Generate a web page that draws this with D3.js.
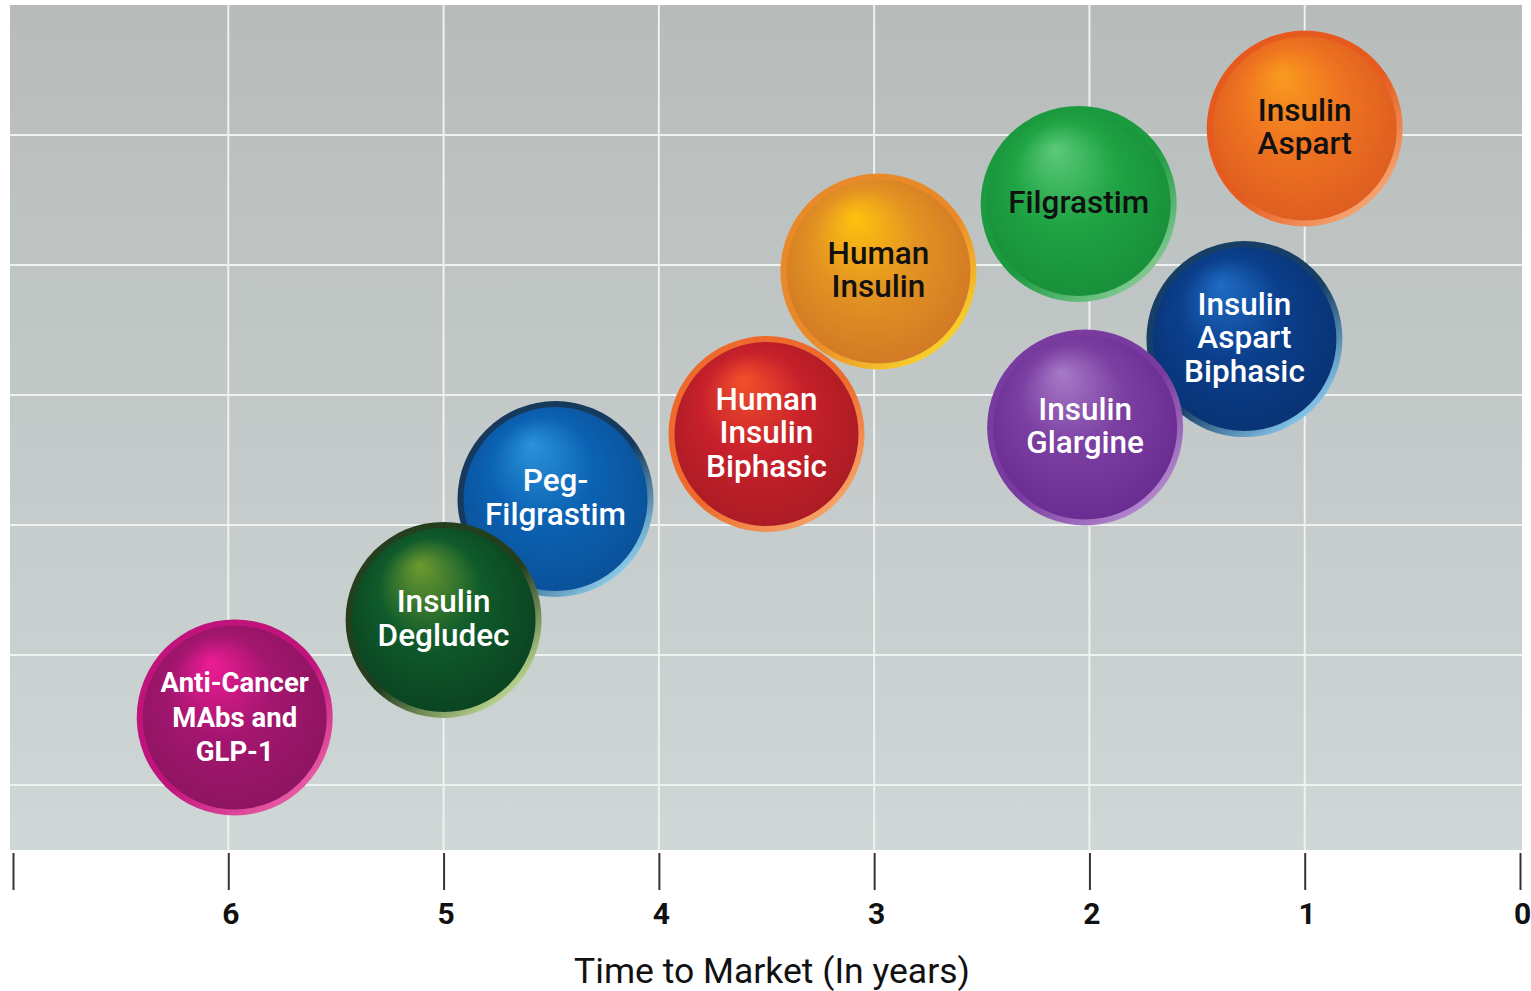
<!DOCTYPE html>
<html>
<head>
<meta charset="utf-8">
<script src="https://cdn.jsdelivr.net/npm/d3@7"></script>
<style>
  body { margin: 0; background: #fff; }
  svg { display: block; }
</style>
</head>
<body>
<script>
// drugs, time to market (years) and vertical position
var drugs = ['Insulin\nAspart', 'Filgrastim', 'Insulin\nAspart\nBiphasic', 'Insulin\nGlargine',
  'Human\nInsulin', 'Human\nInsulin\nBiphasic', 'Peg-\nFilgrastim', 'Insulin\nDegludec',
  'Anti-Cancer\nMAbs and\nGLP-1'];
var years = [1.0, 2.05, 1.28, 2.02, 2.98, 3.5, 4.48, 5.0, 5.97];
var level = [5.05, 4.47, 3.43, 2.75, 3.95, 2.7, 2.2, 1.27, 0.52];
var xTicks = [7, 6, 5, 4, 3, 2, 1, 0];
var yGrid = [0, 1, 2, 3, 4, 5];

// colours: [highlight, body, edge, rimDark, rimLight, text]
var palette = [
  ['#f99a1f', '#ef7320', '#d95820', '#e65a1e', '#f6a877', '#111'],
  ['#5cc97a', '#1fa444', '#178a37', '#1c9a40', '#86cc95', '#111'],
  ['#1f6cc4', '#0b3f8c', '#08306f', '#173f66', '#8ccdf2', '#fff'],
  ['#a77ac6', '#7b3fa2', '#65278c', '#7a3ba0', '#b58bd0', '#fff'],
  ['#ffc20e', '#e39322', '#cd7326', '#e98a2a', '#f9d52a', '#111'],
  ['#f2502a', '#c8212b', '#a41a22', '#ee6a2c', '#f6a46a', '#fff'],
  ['#2b93da', '#0b62b3', '#0a4d93', '#163a5e', '#92d4f3', '#fff'],
  ['#6e9a30', '#0f5b2b', '#0a3d1f', '#243f1d', '#c2dc95', '#fff'],
  ['#ee1c94', '#a3166f', '#88145d', '#c0147c', '#ea5ea6', '#fff']
];

var W = 1531, H = 991;
var svg = d3.select('body').append('svg')
  .attr('width', W)
  .attr('height', H);

var xScale = d3.scaleLinear().domain([7, 0]).range([13, 1520]);
var yScale = d3.scaleLinear().domain([-0.5, 6]).range([850, 5]);
var R = 98;

var defs = svg.append('defs');

var bg = defs.append('linearGradient').attr('id', 'bg')
  .attr('x1', 0).attr('y1', 0).attr('x2', 0).attr('y2', 1);
bg.append('stop').attr('offset', '0%').attr('stop-color', '#b7bcba');
bg.append('stop').attr('offset', '100%').attr('stop-color', '#cfd7d7');

// plot background
svg.append('rect')
  .attr('x', xScale(7) - 3)
  .attr('y', yScale(6))
  .attr('width', xScale(0) - xScale(7) + 5)
  .attr('height', yScale(-0.5) - yScale(6))
  .attr('fill', 'url(#bg)');

// grid
var grid = svg.append('g').attr('stroke', '#eef2f1').attr('stroke-width', 2);
grid.selectAll('.vg')
  .data(xTicks.filter(d => d > 0 && d < 7))
  .enter().append('line')
  .attr('x1', d => xScale(d)).attr('x2', d => xScale(d))
  .attr('y1', yScale(6)).attr('y2', yScale(-0.5));
grid.selectAll('.hg')
  .data(yGrid)
  .enter().append('line')
  .attr('x1', xScale(7) - 3).attr('x2', xScale(0) + 2)
  .attr('y1', d => yScale(d)).attr('y2', d => yScale(d));

// x axis
var xAxis = d3.axisBottom(xScale)
  .tickValues(xTicks)
  .tickSize(37)
  .tickPadding(13)
  .tickFormat(d => d === 7 ? '' : d);

var ax = svg.append('g')
  .attr('transform', `translate(0, ${yScale(-0.5) + 3})`)
  .call(xAxis);
ax.select('.domain').remove();
ax.selectAll('.tick line').attr('stroke', '#333').attr('stroke-width', 2);
ax.selectAll('.tick text')
  .attr('x', 2)
  .style('font-family', 'Roboto, sans-serif')
  .style('font-weight', '700')
  .style('font-size', '30px')
  .attr('fill', '#111');

svg.append('text')
  .text('Time to Market (In years)')
  .attr('x', 772)
  .attr('y', 983)
  .attr('text-anchor', 'middle')
  .style('font-family', 'Roboto, sans-serif')
  .style('font-size', '35.5px')
  .attr('fill', '#111');

// gradients for bubbles
palette.forEach(function(c, i) {
  var rim = defs.append('linearGradient').attr('id', 'rim' + i)
    .attr('x1', 0.15).attr('y1', 0.1).attr('x2', 0.85).attr('y2', 0.9);
  rim.append('stop').attr('offset', '0%').attr('stop-color', c[3]);
  rim.append('stop').attr('offset', '55%').attr('stop-color', c[3]);
  rim.append('stop').attr('offset', '100%').attr('stop-color', c[4]);

  var body = defs.append('radialGradient').attr('id', 'body' + i)
    .attr('cx', 0.5).attr('cy', 0.5).attr('r', 0.62)
    .attr('fx', 0.37).attr('fy', 0.2);
  body.append('stop').attr('offset', '0%').attr('stop-color', c[0]);
  body.append('stop').attr('offset', '45%').attr('stop-color', c[1]);
  body.append('stop').attr('offset', '100%').attr('stop-color', c[2]);
});

// bubbles
var bubble = svg.selectAll('.bubble')
  .data(drugs)
  .enter().append('g')
  .attr('class', 'bubble')
  .attr('transform', (d, i) => `translate(${xScale(years[i])}, ${yScale(level[i])})`);

bubble.append('circle')
  .attr('r', R)
  .attr('fill', (d, i) => `url(#rim${i})`);

bubble.append('circle')
  .attr('r', R - 6)
  .attr('fill', (d, i) => `url(#body${i})`);

bubble.each(function(d, i) {
  var lines = d.split('\n');
  var small = lines[0] === 'Anti-Cancer';
  var lh = small ? 34.5 : 33.5;
  var t = d3.select(this).append('text')
    .attr('text-anchor', 'middle')
    .attr('fill', palette[i][5])
    .style('font-family', 'Roboto, sans-serif')
    .style('font-weight', small ? '700' : '500')
    .style('font-size', small ? '27.5px' : '31.5px');
  lines.forEach(function(l, k) {
    t.append('tspan')
      .attr('x', 0)
      .attr('y', (k - (lines.length - 1) / 2) * lh + (small ? 9.5 : 9))
      .text(l);
  });
});
</script>
</body>
</html>
